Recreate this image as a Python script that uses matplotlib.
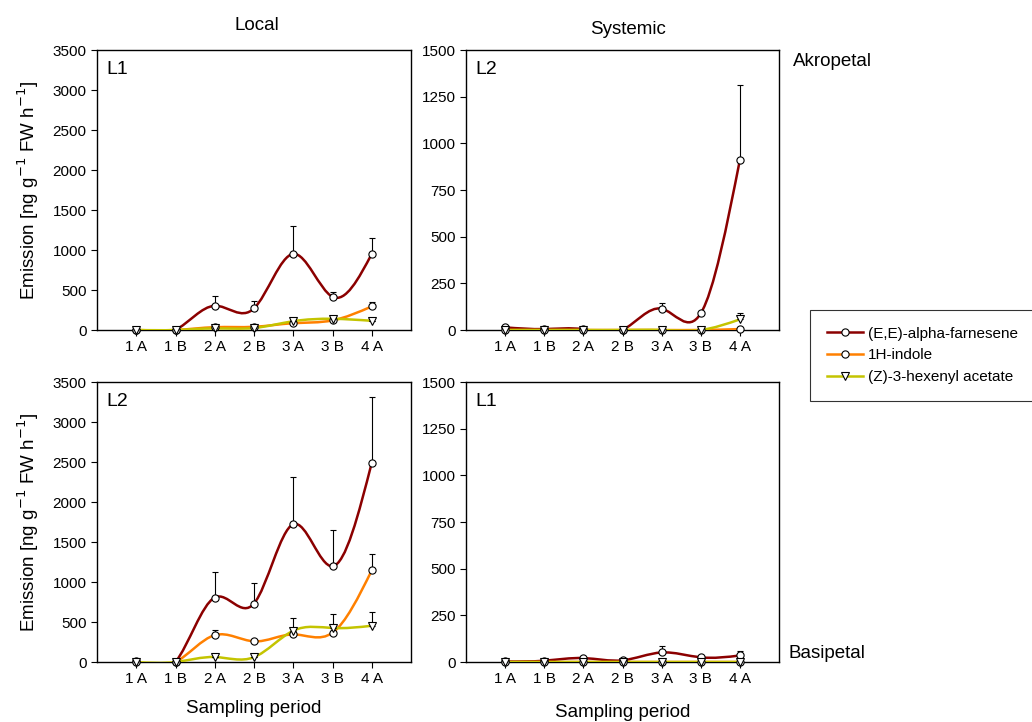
import numpy as np
import matplotlib
matplotlib.use("Agg")
import matplotlib.pyplot as plt
from matplotlib.path import Path
from matplotlib.patches import PathPatch
from matplotlib.lines import Line2D

plt.rcParams['font.family'] = ['Liberation Sans', 'DejaVu Sans']

periods = ['1 A', '1 B', '2 A', '2 B', '3 A', '3 B', '4 A']
compounds = ['(E,E)-alpha-farnesene', '1H-indole', '(Z)-3-hexenyl acetate']

# local, leaf L1 (top left)
local_l1_farn = [0, 0, 303, 270, 951, 415, 951]
local_l1_farn_err = [0, 0, 117, 92, 346, 55, 200]
local_l1_indole = [0, 0, 35, 40, 85, 120, 295]
local_l1_indole_err = [0, 0, 0, 0, 0, 0, 58]
local_l1_hex = [0, 0, 20, 25, 110, 140, 115]
local_l1_hex_err = [0, 0, 0, 0, 45, 0, 0]

# systemic akropetal, leaf L2 (top right)
sys_l2_farn = [14, 5, 4, 0, 114, 89, 911]
sys_l2_farn_err = [0, 0, 0, 0, 29, 0, 402]
sys_l2_indole = [0, 0, 0, 0, 0, 0, 5]
sys_l2_indole_err = [0, 0, 0, 0, 0, 0, 0]
sys_l2_hex = [0, 0, 0, 0, 0, 0, 57]
sys_l2_hex_err = [0, 0, 0, 0, 0, 0, 36]

# local, leaf L2 (bottom left)
local_l2_farn = [15, 0, 806, 731, 1722, 1197, 2490]
local_l2_farn_err = [0, 0, 319, 259, 588, 450, 826]
local_l2_indole = [0, 0, 336, 258, 345, 366, 1145]
local_l2_indole_err = [0, 0, 70, 0, 0, 0, 200]
local_l2_hex = [0, 0, 62, 60, 391, 425, 453]
local_l2_hex_err = [0, 0, 0, 0, 154, 179, 167]

# systemic basipetal, leaf L1 (bottom right)
sys_l1_farn = [3, 7, 21, 9, 51, 25, 35]
sys_l1_farn_err = [0, 0, 0, 0, 35, 0, 24]
sys_l1_indole = [0, 0, 0, 0, 0, 0, 0]
sys_l1_indole_err = [0, 0, 0, 0, 0, 0, 0]
sys_l1_hex = [0, 0, 0, 0, 0, 0, 0]
sys_l1_hex_err = [0, 0, 0, 0, 0, 0, 0]

colors = ['#8b0000', '#ff8000', '#c4c400']
markers = ['o', 'o', 'v']


def spline_path(x, y):
    # natural cubic spline through the points (unit spacing),
    # written out as bezier segments so the axes do the scaling
    x = np.asarray(x, float)
    y = np.asarray(y, float)
    n = len(y)
    A = np.zeros((n, n))
    b = np.zeros(n)
    A[0, 0], A[0, 1] = 2, 1
    b[0] = 3 * (y[1] - y[0])
    A[-1, -2], A[-1, -1] = 1, 2
    b[-1] = 3 * (y[-1] - y[-2])
    for i in range(1, n - 1):
        A[i, i - 1], A[i, i], A[i, i + 1] = 1, 4, 1
        b[i] = 3 * (y[i + 1] - y[i - 1])
    d = np.linalg.solve(A, b)
    verts = [(x[0], y[0])]
    codes = [Path.MOVETO]
    for i in range(n - 1):
        h = x[i + 1] - x[i]
        verts += [(x[i] + h / 3, y[i] + d[i] / 3),
                  (x[i + 1] - h / 3, y[i + 1] - d[i + 1] / 3),
                  (x[i + 1], y[i + 1])]
        codes += [Path.CURVE4] * 3
    return Path(verts, codes)


def draw_panel(ax, series, ymax, step, label):
    xs = np.arange(1, len(periods) + 1)
    for k, (vals, errs) in enumerate(series):
        ax.add_patch(PathPatch(spline_path(xs, vals), fill=False,
                               edgecolor=colors[k], lw=1.8, zorder=2 + k))
    for k, (vals, errs) in enumerate(series):
        ax.errorbar(xs, vals, yerr=[np.zeros(len(errs)), errs], fmt='none',
                    ecolor='black', elinewidth=0.8, capsize=2.2, capthick=0.8,
                    zorder=6)
        ax.plot(xs, vals, linestyle='none', marker=markers[k], ms=5.2,
                mfc='white', mec='black', mew=0.8, zorder=7, clip_on=False)
    ax.set_xlim(0, 8)
    ax.set_ylim(0, ymax)
    ax.set_xticks(xs)
    ax.set_xticklabels(periods)
    ax.set_yticks(np.arange(0, ymax + 1, step))
    ax.tick_params(labelsize=11, length=4, width=0.8, direction='out',
                   top=False, right=False)
    for s in ax.spines.values():
        s.set_linewidth(1.0)
    ax.text(0.03, 0.96, label, transform=ax.transAxes, va='top', ha='left',
            fontsize=14)


fig = plt.figure(figsize=(10.32, 7.22), dpi=100)
W, H = 1032, 722
ax_tl = fig.add_axes([97 / W, 1 - 330 / H, 314 / W, 280 / H])
ax_tr = fig.add_axes([466 / W, 1 - 330 / H, 313 / W, 280 / H])
ax_bl = fig.add_axes([97 / W, 1 - 662 / H, 314 / W, 280 / H])
ax_br = fig.add_axes([466 / W, 1 - 662 / H, 313 / W, 280 / H])

draw_panel(ax_tl, [(local_l1_farn, local_l1_farn_err),
                   (local_l1_indole, local_l1_indole_err),
                   (local_l1_hex, local_l1_hex_err)], 3500, 500, 'L1')
draw_panel(ax_tr, [(sys_l2_farn, sys_l2_farn_err),
                   (sys_l2_indole, sys_l2_indole_err),
                   (sys_l2_hex, sys_l2_hex_err)], 1500, 250, 'L2')
draw_panel(ax_bl, [(local_l2_farn, local_l2_farn_err),
                   (local_l2_indole, local_l2_indole_err),
                   (local_l2_hex, local_l2_hex_err)], 3500, 500, 'L2')
draw_panel(ax_br, [(sys_l1_farn, sys_l1_farn_err),
                   (sys_l1_indole, sys_l1_indole_err),
                   (sys_l1_hex, sys_l1_hex_err)], 1500, 250, 'L1')

ylab = 'Emission [ng g$^{-1}$ FW h$^{-1}$]'
ax_tl.set_ylabel(ylab, fontsize=13.5, labelpad=8)
ax_bl.set_ylabel(ylab, fontsize=13.5, labelpad=8)
ax_bl.set_xlabel('Sampling period', fontsize=13.5, labelpad=10)
ax_br.set_xlabel('Sampling period', fontsize=13.5, labelpad=13)

fig.text(257 / W, 1 - 25 / H, 'Local', ha='center', va='center', fontsize=13.5)
fig.text(628 / W, 1 - 30 / H, 'Systemic', ha='center', va='center', fontsize=13.5)
fig.text(793 / W, 1 - 62 / H, 'Akropetal', ha='left', va='center', fontsize=13.5)
fig.text(788 / W, 1 - 654 / H, 'Basipetal', ha='left', va='center', fontsize=13.5)

handles = [Line2D([], [], color=colors[k], lw=1.8, marker=markers[k], ms=5.2,
                  mfc='white', mec='black', mew=0.8) for k in range(3)]
leg = fig.legend(handles, compounds, loc='upper left',
                 bbox_to_anchor=(810 / W, 1 - 310 / H), fontsize=11,
                 frameon=True, fancybox=False, edgecolor='black',
                 handlelength=2.4, handletextpad=0.3, borderpad=1.1,
                 labelspacing=0.5, borderaxespad=0)
leg.get_frame().set_linewidth(0.8)

fig.savefig('out.png', dpi=100)
